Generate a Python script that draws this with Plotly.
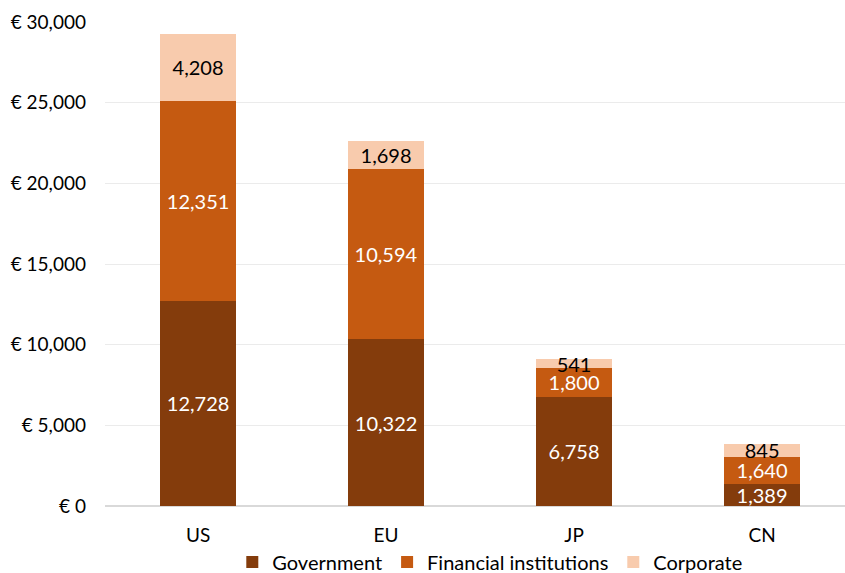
import plotly.graph_objects as go

# Debt securities outstanding by issuer sector
regions = ["US", "EU", "JP", "CN"]
government = [12728, 10322, 6758, 1389]
financial = [12351, 10594, 1800, 1640]
corporate = [4208, 1698, 541, 845]

y_ticks = [0, 5000, 10000, 15000, 20000, 25000, 30000]
y_tick_text = ["€ 0", "€ 5,000", "€ 10,000", "€ 15,000", "€ 20,000", "€ 25,000", "€ 30,000"]

FONT = "Lato"
positions = list(range(len(regions)))

series = [
    ("Government", government, "#843C0C", "white"),
    ("Financial institutions", financial, "#C55A11", "white"),
    ("Corporate", corporate, "#F8CBAD", "black"),
]

fig = go.Figure()
for name, vals, color, tcolor in series:
    fig.add_trace(go.Bar(
        x=positions,
        y=vals,
        name=name,
        width=0.40,
        marker=dict(color=color, line=dict(width=0)),
        text=[f"{v:,}" for v in vals],
        textposition="inside",
        insidetextanchor="middle",
        constraintext="none",
        textangle=0,
        textfont=dict(family=FONT, size=20, color=tcolor),
        hoverinfo="skip",
    ))

fig.update_layout(
    barmode="stack",
    width=845,
    height=573,
    margin=dict(l=105, r=0, t=22, b=67, autoexpand=False),
    paper_bgcolor="white",
    plot_bgcolor="white",
    font=dict(family=FONT, size=19, color="black"),
    showlegend=True,
    legend=dict(
        orientation="h",
        x=0.52,
        xanchor="center",
        xref="paper",
        yref="container",
        y=0.019,
        yanchor="middle",
        font=dict(family=FONT, size=20, color="black"),
        itemwidth=30,
        traceorder="normal",
    ),
)

fig.update_xaxes(
    range=[-0.495, 3.441],
    tickvals=positions,
    ticktext=regions,
    showgrid=False,
    zeroline=False,
    showline=False,
    ticks="",
    ticklabelstandoff=16,
    tickfont=dict(family=FONT, size=19, color="black"),
)

fig.update_yaxes(
    range=[0, 30000],
    tickvals=y_ticks,
    ticktext=y_tick_text,
    showgrid=True,
    gridcolor="#EBEBEB",
    gridwidth=1,
    zeroline=True,
    zerolinecolor="#D9D9D9",
    zerolinewidth=1.5,
    showline=False,
    ticks="",
    ticklabelstandoff=18,
    tickfont=dict(family=FONT, size=19, color="black"),
)

fig.write_html("out.html")
